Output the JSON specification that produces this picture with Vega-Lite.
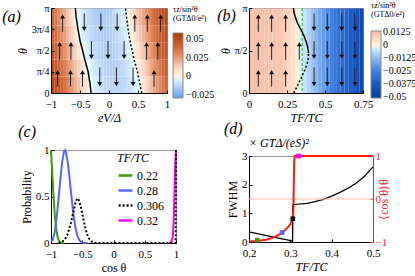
{
"$schema":"https://vega.github.io/schema/vega-lite/v6.json",
"padding":{"left":1,"top":1,"right":0,"bottom":0},
"background":"white",
"config":{
 "font":"Liberation Serif",
 "view":{"stroke":"#999999","strokeWidth":1},
 "axis":{"labelFont":"Liberation Serif","labelFontSize":11,"labelColor":"#000","titleFont":"Liberation Serif","titleFontSize":12,"titleFontWeight":"normal","titleFontStyle":"italic","titleColor":"#000","domainColor":"#000","tickColor":"#000","grid":false,"tickSize":-3,"labelPadding":5,"titlePadding":2,"labelFlush":false,"labelOverlap":false},
 "axisX":{"labelPadding":8,"titlePadding":3},
 "legend":{"labelFont":"Liberation Serif","titleFont":"Liberation Serif","titleFontWeight":"normal","labelOverlap":false},
 "title":{"font":"Liberation Serif","fontSize":16,"fontWeight":"normal","fontStyle":"italic","anchor":"start","frame":"bounds","color":"#000"}
},
"resolve":{"scale":{"color":"independent","shape":"independent","strokeDash":"independent","x":"independent","y":"independent"},"legend":{"color":"independent","strokeDash":"independent"}},
"spacing":0,
"hconcat":[
{"vconcat":[
 {"width":116,"height":85,
  "title":{"text":"(a)","dx":-14,"dy":26},
  "layer":[
   {"data":{"values":[
{"x":-1,"t":0,"v":0.053},{"x":-0.95,"t":0,"v":0.0488},{"x":-0.9,"t":0,"v":0.0447},{"x":-0.85,"t":0,"v":0.0406},{"x":-0.8,"t":0,"v":0.0365},{"x":-0.75,"t":0,"v":0.0324},{"x":-0.7,"t":0,"v":0.0283},{"x":-0.65,"t":0,"v":0.0242},{"x":-0.6,"t":0,"v":0.0201},{"x":-0.55,"t":0,"v":0.016},{"x":-0.5,"t":0,"v":0.0119},{"x":-0.45,"t":0,"v":0.0078},{"x":-0.4,"t":0,"v":0.0037},{"x":-0.35,"t":0,"v":-0.0003},{"x":-0.3,"t":0,"v":-0.0033},{"x":-0.25,"t":0,"v":-0.006},{"x":-0.2,"t":0,"v":-0.0082},{"x":-0.15,"t":0,"v":-0.0101},{"x":-0.1,"t":0,"v":-0.0116},{"x":-0.05,"t":0,"v":-0.0128},{"x":0,"t":0,"v":-0.0136},{"x":0.05,"t":0,"v":-0.0139},{"x":0.1,"t":0,"v":-0.014},{"x":0.15,"t":0,"v":-0.0136},{"x":0.2,"t":0,"v":-0.0129},{"x":0.25,"t":0,"v":-0.0118},{"x":0.3,"t":0,"v":-0.0103},{"x":0.35,"t":0,"v":-0.0084},{"x":0.4,"t":0,"v":-0.0062},{"x":0.45,"t":0,"v":-0.0036},{"x":0.5,"t":0,"v":-0.0006},{"x":0.55,"t":0,"v":0.0036},{"x":0.6,"t":0,"v":0.0081},{"x":0.65,"t":0,"v":0.0126},{"x":0.7,"t":0,"v":0.0172},{"x":0.75,"t":0,"v":0.0217},{"x":0.8,"t":0,"v":0.0262},{"x":0.85,"t":0,"v":0.0307},{"x":0.9,"t":0,"v":0.0352},{"x":0.95,"t":0,"v":0.0397},
{"x":-1,"t":0.2,"v":0.0499},{"x":-0.95,"t":0.2,"v":0.0457},{"x":-0.9,"t":0.2,"v":0.0414},{"x":-0.85,"t":0.2,"v":0.0372},{"x":-0.8,"t":0.2,"v":0.033},{"x":-0.75,"t":0.2,"v":0.0287},{"x":-0.7,"t":0.2,"v":0.0245},{"x":-0.65,"t":0.2,"v":0.0203},{"x":-0.6,"t":0.2,"v":0.0161},{"x":-0.55,"t":0.2,"v":0.0118},{"x":-0.5,"t":0.2,"v":0.0076},{"x":-0.45,"t":0.2,"v":0.0034},{"x":-0.4,"t":0.2,"v":-0.0007},{"x":-0.35,"t":0.2,"v":-0.0038},{"x":-0.3,"t":0.2,"v":-0.0066},{"x":-0.25,"t":0.2,"v":-0.0089},{"x":-0.2,"t":0.2,"v":-0.0108},{"x":-0.15,"t":0.2,"v":-0.0124},{"x":-0.1,"t":0.2,"v":-0.0135},{"x":-0.05,"t":0.2,"v":-0.0142},{"x":0,"t":0.2,"v":-0.0145},{"x":0.05,"t":0.2,"v":-0.0144},{"x":0.1,"t":0.2,"v":-0.0139},{"x":0.15,"t":0.2,"v":-0.013},{"x":0.2,"t":0.2,"v":-0.0116},{"x":0.25,"t":0.2,"v":-0.0099},{"x":0.3,"t":0.2,"v":-0.0078},{"x":0.35,"t":0.2,"v":-0.0052},{"x":0.4,"t":0.2,"v":-0.0023},{"x":0.45,"t":0.2,"v":0.0013},{"x":0.5,"t":0.2,"v":0.0055},{"x":0.55,"t":0.2,"v":0.0098},{"x":0.6,"t":0.2,"v":0.0141},{"x":0.65,"t":0.2,"v":0.0183},{"x":0.7,"t":0.2,"v":0.0226},{"x":0.75,"t":0.2,"v":0.0268},{"x":0.8,"t":0.2,"v":0.0311},{"x":0.85,"t":0.2,"v":0.0354},{"x":0.9,"t":0.2,"v":0.0396},{"x":0.95,"t":0.2,"v":0.0439},
{"x":-1,"t":0.4,"v":0.0458},{"x":-0.95,"t":0.4,"v":0.0413},{"x":-0.9,"t":0.4,"v":0.0369},{"x":-0.85,"t":0.4,"v":0.0324},{"x":-0.8,"t":0.4,"v":0.028},{"x":-0.75,"t":0.4,"v":0.0236},{"x":-0.7,"t":0.4,"v":0.0191},{"x":-0.65,"t":0.4,"v":0.0147},{"x":-0.6,"t":0.4,"v":0.0102},{"x":-0.55,"t":0.4,"v":0.0058},{"x":-0.5,"t":0.4,"v":0.0013},{"x":-0.45,"t":0.4,"v":-0.0023},{"x":-0.4,"t":0.4,"v":-0.0053},{"x":-0.35,"t":0.4,"v":-0.0079},{"x":-0.3,"t":0.4,"v":-0.0101},{"x":-0.25,"t":0.4,"v":-0.0119},{"x":-0.2,"t":0.4,"v":-0.0133},{"x":-0.15,"t":0.4,"v":-0.0143},{"x":-0.1,"t":0.4,"v":-0.0148},{"x":-0.05,"t":0.4,"v":-0.015},{"x":0,"t":0.4,"v":-0.0148},{"x":0.05,"t":0.4,"v":-0.0141},{"x":0.1,"t":0.4,"v":-0.0131},{"x":0.15,"t":0.4,"v":-0.0116},{"x":0.2,"t":0.4,"v":-0.0097},{"x":0.25,"t":0.4,"v":-0.0075},{"x":0.3,"t":0.4,"v":-0.0048},{"x":0.35,"t":0.4,"v":-0.0017},{"x":0.4,"t":0.4,"v":0.0021},{"x":0.45,"t":0.4,"v":0.0063},{"x":0.5,"t":0.4,"v":0.0104},{"x":0.55,"t":0.4,"v":0.0146},{"x":0.6,"t":0.4,"v":0.0188},{"x":0.65,"t":0.4,"v":0.0229},{"x":0.7,"t":0.4,"v":0.0271},{"x":0.75,"t":0.4,"v":0.0313},{"x":0.8,"t":0.4,"v":0.0354},{"x":0.85,"t":0.4,"v":0.0396},{"x":0.9,"t":0.4,"v":0.0438},{"x":0.95,"t":0.4,"v":0.0479},
{"x":-1,"t":0.6,"v":0.0426},{"x":-0.95,"t":0.6,"v":0.0378},{"x":-0.9,"t":0.6,"v":0.033},{"x":-0.85,"t":0.6,"v":0.0282},{"x":-0.8,"t":0.6,"v":0.0235},{"x":-0.75,"t":0.6,"v":0.0187},{"x":-0.7,"t":0.6,"v":0.0139},{"x":-0.65,"t":0.6,"v":0.0091},{"x":-0.6,"t":0.6,"v":0.0043},{"x":-0.55,"t":0.6,"v":-0.0004},{"x":-0.5,"t":0.6,"v":-0.0036},{"x":-0.45,"t":0.6,"v":-0.0065},{"x":-0.4,"t":0.6,"v":-0.009},{"x":-0.35,"t":0.6,"v":-0.0111},{"x":-0.3,"t":0.6,"v":-0.0128},{"x":-0.25,"t":0.6,"v":-0.014},{"x":-0.2,"t":0.6,"v":-0.0149},{"x":-0.15,"t":0.6,"v":-0.0154},{"x":-0.1,"t":0.6,"v":-0.0155},{"x":-0.05,"t":0.6,"v":-0.0152},{"x":0,"t":0.6,"v":-0.0144},{"x":0.05,"t":0.6,"v":-0.0133},{"x":0.1,"t":0.6,"v":-0.0118},{"x":0.15,"t":0.6,"v":-0.0099},{"x":0.2,"t":0.6,"v":-0.0076},{"x":0.25,"t":0.6,"v":-0.0048},{"x":0.3,"t":0.6,"v":-0.0017},{"x":0.35,"t":0.6,"v":0.002},{"x":0.4,"t":0.6,"v":0.0061},{"x":0.45,"t":0.6,"v":0.0102},{"x":0.5,"t":0.6,"v":0.0143},{"x":0.55,"t":0.6,"v":0.0183},{"x":0.6,"t":0.6,"v":0.0224},{"x":0.65,"t":0.6,"v":0.0265},{"x":0.7,"t":0.6,"v":0.0306},{"x":0.75,"t":0.6,"v":0.0347},{"x":0.8,"t":0.6,"v":0.0387},{"x":0.85,"t":0.6,"v":0.0428},{"x":0.9,"t":0.6,"v":0.0469},{"x":0.95,"t":0.6,"v":0.051},
{"x":-1,"t":0.8,"v":0.0405},{"x":-0.95,"t":0.8,"v":0.0354},{"x":-0.9,"t":0.8,"v":0.0304},{"x":-0.85,"t":0.8,"v":0.0253},{"x":-0.8,"t":0.8,"v":0.0202},{"x":-0.75,"t":0.8,"v":0.0152},{"x":-0.7,"t":0.8,"v":0.0101},{"x":-0.65,"t":0.8,"v":0.0051},{"x":-0.6,"t":0.8,"v":0.0},{"x":-0.55,"t":0.8,"v":-0.0034},{"x":-0.5,"t":0.8,"v":-0.0065},{"x":-0.45,"t":0.8,"v":-0.0091},{"x":-0.4,"t":0.8,"v":-0.0113},{"x":-0.35,"t":0.8,"v":-0.0131},{"x":-0.3,"t":0.8,"v":-0.0144},{"x":-0.25,"t":0.8,"v":-0.0154},{"x":-0.2,"t":0.8,"v":-0.0159},{"x":-0.15,"t":0.8,"v":-0.016},{"x":-0.1,"t":0.8,"v":-0.0157},{"x":-0.05,"t":0.8,"v":-0.0149},{"x":0,"t":0.8,"v":-0.0138},{"x":0.05,"t":0.8,"v":-0.0122},{"x":0.1,"t":0.8,"v":-0.0102},{"x":0.15,"t":0.8,"v":-0.0078},{"x":0.2,"t":0.8,"v":-0.005},{"x":0.25,"t":0.8,"v":-0.0018},{"x":0.3,"t":0.8,"v":0.002},{"x":0.35,"t":0.8,"v":0.006},{"x":0.4,"t":0.8,"v":0.01},{"x":0.45,"t":0.8,"v":0.014},{"x":0.5,"t":0.8,"v":0.018},{"x":0.55,"t":0.8,"v":0.022},{"x":0.6,"t":0.8,"v":0.026},{"x":0.65,"t":0.8,"v":0.03},{"x":0.7,"t":0.8,"v":0.034},{"x":0.75,"t":0.8,"v":0.038},{"x":0.8,"t":0.8,"v":0.042},{"x":0.85,"t":0.8,"v":0.046},{"x":0.9,"t":0.8,"v":0.05},{"x":0.95,"t":0.8,"v":0.054}
   ]},
   "mark":{"type":"rect"},
   "encoding":{
    "x":{"field":"x","type":"quantitative","bin":{"binned":true,"step":0.05},"scale":{"domain":[-1,1],"nice":false,"zero":false},"axis":{"values":[-1,-0.5,0,0.5,1],"format":"~g","title":"eV/Δ"}},
    "y":{"field":"t","type":"quantitative","bin":{"binned":true,"step":0.2},"scale":{"domain":[0,1],"nice":false,"zero":false},"axis":{"values":[0,0.25,0.5,0.75,1],"labelFontSize":10,"labelExpr":"datum.value==1?'π':datum.value==0.75?'3π/4':datum.value==0.5?'π/2':datum.value==0.25?'π/4':'0'","title":"θ"}},
    "color":{"field":"v","type":"quantitative","scale":{"domain":[-0.029,-0.0125,0,0.0125,0.025,0.04,0.058],"range":["#5e9ded","#bcd6f6","#ffffff","#f6d0be","#e89a74","#d06432","#ad3a08"]},
     "legend":{"type":"gradient","orient":"none","legendX":122,"legendY":-2,"direction":"vertical","gradientLength":65,"gradientThickness":10,"values":[0.05,0.025,0,-0.025],"format":".4~g","title":["τz/sin²θ","(GTΔ0/e²)"],"titleFontSize":8,"titleLineHeight":9,"titlePadding":10,"labelFontSize":10,"labelOffset":3,"labelBaseline":"middle","gradientStrokeColor":"#888","gradientStrokeWidth":1}}
   }},
   {"data":{"values":[{"x":-0.31,"t":0},{"x":-0.325,"t":0.1},{"x":-0.36,"t":0.25},{"x":-0.42,"t":0.4},{"x":-0.455,"t":0.5},{"x":-0.495,"t":0.6},{"x":-0.535,"t":0.75},{"x":-0.568,"t":0.9},{"x":-0.58,"t":1}]},
    "mark":{"type":"line","color":"#000","strokeWidth":1.5},
    "encoding":{"x":{"field":"x","type":"quantitative"},"y":{"field":"t","type":"quantitative"},"order":{"field":"t"}}},
   {"data":{"values":[{"x":0.565,"t":0},{"x":0.524,"t":0.136},{"x":0.49,"t":0.252},{"x":0.427,"t":0.409},{"x":0.4,"t":0.5},{"x":0.375,"t":0.564},{"x":0.335,"t":0.72},{"x":0.306,"t":0.876},{"x":0.283,"t":1}]},
    "mark":{"type":"line","color":"#000","strokeWidth":1.5,"strokeDash":[2,2]},
    "encoding":{"x":{"field":"x","type":"quantitative"},"y":{"field":"t","type":"quantitative"},"order":{"field":"t"}}},
   {"data":{"values":[
{"x":-0.886,"y0":0.075,"y1":0.245,"d":"u"},{"x":-0.663,"y0":0.075,"y1":0.245,"d":"u"},{"x":-0.457,"y0":0.075,"y1":0.245,"d":"u"},{"x":-0.159,"y0":0.3,"y1":0.105,"d":"d"},{"x":0.128,"y0":0.3,"y1":0.105,"d":"d"},{"x":0.415,"y0":0.3,"y1":0.105,"d":"d"},{"x":0.776,"y0":0.075,"y1":0.245,"d":"u"},
{"x":-0.85,"y0":0.39,"y1":0.575,"d":"u"},{"x":-0.656,"y0":0.39,"y1":0.575,"d":"u"},{"x":-0.303,"y0":0.61,"y1":0.425,"d":"d"},{"x":-0.017,"y0":0.61,"y1":0.425,"d":"d"},{"x":0.26,"y0":0.61,"y1":0.425,"d":"d"},{"x":0.648,"y0":0.39,"y1":0.575,"d":"u"},{"x":0.843,"y0":0.39,"y1":0.575,"d":"u"},
{"x":-0.8,"y0":0.72,"y1":0.9,"d":"u"},{"x":-0.427,"y0":0.935,"y1":0.755,"d":"d"},{"x":-0.14,"y0":0.935,"y1":0.755,"d":"d"},{"x":0.14,"y0":0.935,"y1":0.755,"d":"d"},{"x":0.445,"y0":0.72,"y1":0.9,"d":"u"},{"x":0.66,"y0":0.72,"y1":0.9,"d":"u"},{"x":0.89,"y0":0.72,"y1":0.9,"d":"u"}
   ]},
   "layer":[
    {"mark":{"type":"rule","color":"#222","strokeWidth":1},
     "encoding":{"x":{"field":"x","type":"quantitative"},"y":{"field":"y0","type":"quantitative"},"y2":{"field":"y1"}}},
    {"mark":{"type":"point","filled":true,"color":"#111","size":24,"opacity":1},
     "encoding":{"x":{"field":"x","type":"quantitative"},"y":{"field":"y1","type":"quantitative"},"shape":{"field":"d","type":"nominal","scale":{"domain":["u","d"],"range":["triangle-up","triangle-down"]},"legend":null}}}
   ]}
  ]},
 {"width":125,"height":93,
  "title":{"text":"(c)","dx":-2,"dy":0},
  "data":{"values":[
{"s":"0.22","u":-1,"p":1},{"s":"0.22","u":-0.985,"p":0.82},{"s":"0.22","u":-0.97,"p":0.62},{"s":"0.22","u":-0.955,"p":0.45},{"s":"0.22","u":-0.94,"p":0.31},{"s":"0.22","u":-0.925,"p":0.2},{"s":"0.22","u":-0.91,"p":0.12},{"s":"0.22","u":-0.895,"p":0.07},{"s":"0.22","u":-0.88,"p":0.035},{"s":"0.22","u":-0.86,"p":0.012},{"s":"0.22","u":-0.84,"p":0.003},{"s":"0.22","u":-0.8,"p":0},
{"s":"0.28","u":-1,"p":0.01},{"s":"0.28","u":-0.97,"p":0.04},{"s":"0.28","u":-0.94,"p":0.12},{"s":"0.28","u":-0.91,"p":0.27},{"s":"0.28","u":-0.88,"p":0.47},{"s":"0.28","u":-0.85,"p":0.69},{"s":"0.28","u":-0.82,"p":0.88},{"s":"0.28","u":-0.79,"p":0.99},{"s":"0.28","u":-0.775,"p":1},{"s":"0.28","u":-0.76,"p":0.97},{"s":"0.28","u":-0.73,"p":0.86},{"s":"0.28","u":-0.7,"p":0.68},{"s":"0.28","u":-0.67,"p":0.48},{"s":"0.28","u":-0.64,"p":0.3},{"s":"0.28","u":-0.61,"p":0.17},{"s":"0.28","u":-0.58,"p":0.08},{"s":"0.28","u":-0.55,"p":0.035},{"s":"0.28","u":-0.52,"p":0.013},{"s":"0.28","u":-0.48,"p":0.003},{"s":"0.28","u":-0.42,"p":0},
{"s":"0.32","u":0.9,"p":0},{"s":"0.32","u":0.93,"p":0.02},{"s":"0.32","u":0.95,"p":0.08},{"s":"0.32","u":0.96,"p":0.2},{"s":"0.32","u":0.97,"p":0.4},{"s":"0.32","u":0.98,"p":0.65},{"s":"0.32","u":0.99,"p":0.88},{"s":"0.32","u":1,"p":1},
{"s":"0.306","u":-0.88,"p":0},{"s":"0.306","u":-0.83,"p":0.01},{"s":"0.306","u":-0.78,"p":0.035},{"s":"0.306","u":-0.74,"p":0.085},{"s":"0.306","u":-0.71,"p":0.15},{"s":"0.306","u":-0.68,"p":0.22},{"s":"0.306","u":-0.65,"p":0.31},{"s":"0.306","u":-0.62,"p":0.4},{"s":"0.306","u":-0.6,"p":0.45},{"s":"0.306","u":-0.58,"p":0.48},{"s":"0.306","u":-0.56,"p":0.47},{"s":"0.306","u":-0.54,"p":0.43},{"s":"0.306","u":-0.51,"p":0.35},{"s":"0.306","u":-0.48,"p":0.25},{"s":"0.306","u":-0.45,"p":0.16},{"s":"0.306","u":-0.42,"p":0.09},{"s":"0.306","u":-0.39,"p":0.045},{"s":"0.306","u":-0.36,"p":0.02},{"s":"0.306","u":-0.32,"p":0.005},{"s":"0.306","u":-0.28,"p":0},{"s":"0.306","u":0.995,"p":0},{"s":"0.306","u":1,"p":1}
  ]},
  "mark":{"type":"line","strokeWidth":2},
  "encoding":{
   "x":{"field":"u","type":"quantitative","scale":{"domain":[-1,1],"nice":false},"axis":{"values":[-1,-0.5,0,0.5,1],"format":"~g","title":"cos θ","titleFontStyle":"normal"}},
   "y":{"field":"p","type":"quantitative","scale":{"domain":[0,1],"nice":false},"axis":{"values":[0,0.5,1],"format":"~g","title":"Probability","titleFontStyle":"normal"}},
   "color":{"field":"s","type":"nominal","scale":{"domain":["0.22","0.28","0.306","0.32"],"range":["#3d9b00","#5a63ff","#000000","#ff00ff"]},
    "legend":{"title":"TF/TC","titleFontStyle":"italic","titleFontSize":12,"titlePadding":2,"orient":"none","legendX":66,"legendY":3,"symbolType":"stroke","symbolStrokeWidth":2.5,"symbolSize":190,"labelFontSize":12,"labelOffset":3,"rowPadding":0,"padding":0}},
   "strokeDash":{"field":"s","type":"nominal","scale":{"domain":["0.22","0.28","0.306","0.32"],"range":[[1,0],[1,0],[2,2],[1,0]]},
    "legend":{"title":"TF/TC","titleFontStyle":"italic","titleFontSize":12,"titlePadding":2,"orient":"none","legendX":66,"legendY":3,"symbolType":"stroke","symbolStrokeWidth":2.5,"symbolSize":190,"labelFontSize":12,"labelOffset":3,"rowPadding":0,"padding":0}}
  }}
 ],
 "spacing":-1,
 "resolve":{"scale":{"color":"independent","shape":"independent","strokeDash":"independent","x":"independent","y":"independent"},"legend":{"color":"independent","strokeDash":"independent"}}
},
{"vconcat":[
 {"width":114,"height":85,
  "title":{"text":"(b)","dx":-2,"dy":26},
  "layer":[
   {"data":{"values":[
{"x":0,"t":0,"v":0.0112},{"x":0.025,"t":0,"v":0.0112},{"x":0.05,"t":0,"v":0.0112},{"x":0.075,"t":0,"v":0.0111},{"x":0.1,"t":0,"v":0.011},{"x":0.125,"t":0,"v":0.0109},{"x":0.15,"t":0,"v":0.0107},{"x":0.175,"t":0,"v":0.0103},{"x":0.2,"t":0,"v":0.0095},{"x":0.225,"t":0,"v":0.0082},{"x":0.25,"t":0,"v":0.0062},{"x":0.275,"t":0,"v":0.0036},{"x":0.3,"t":0,"v":0.0008},{"x":0.325,"t":0,"v":-0.0022},{"x":0.35,"t":0,"v":-0.0052},{"x":0.375,"t":0,"v":-0.0082},{"x":0.4,"t":0,"v":-0.0112},{"x":0.425,"t":0,"v":-0.014},{"x":0.45,"t":0,"v":-0.0168},{"x":0.475,"t":0,"v":-0.0195},{"x":0.5,"t":0,"v":-0.0222},{"x":0.525,"t":0,"v":-0.0248},{"x":0.55,"t":0,"v":-0.0273},{"x":0.575,"t":0,"v":-0.0298},{"x":0.6,"t":0,"v":-0.0323},{"x":0.625,"t":0,"v":-0.0348},{"x":0.65,"t":0,"v":-0.0373},{"x":0.675,"t":0,"v":-0.0398},{"x":0.7,"t":0,"v":-0.0425},{"x":0.725,"t":0,"v":-0.046}
   ]},
   "mark":{"type":"rect"},
   "encoding":{
    "x":{"field":"x","type":"quantitative","bin":{"binned":true,"step":0.025},"scale":{"domain":[0,0.75],"nice":false,"zero":false},"axis":{"values":[0,0.25,0.5,0.75],"format":"~g","title":"TF/TC"}},
    "y":{"field":"t","type":"quantitative","bin":{"binned":true,"step":1},"scale":{"domain":[0,1],"nice":false,"zero":false},"axis":{"values":[0,0.25,0.5,0.75,1],"labelFontSize":10,"labelExpr":"datum.value==1?'π':datum.value==0.75?'3π/4':datum.value==0.5?'π/2':datum.value==0.25?'π/4':'0'","title":"θ"}},
    "color":{"field":"v","type":"quantitative","scale":{"domain":[-0.0512,-0.0375,-0.025,-0.0125,0,0.0134],"range":["#083c9c","#1a5cc8","#3f80e0","#95bdf0","#ffffff","#eeb8a2"]},
     "legend":{"type":"gradient","orient":"none","legendX":122,"legendY":-6,"direction":"vertical","gradientLength":67,"gradientThickness":10,"values":[0.0125,0,-0.0125,-0.025,-0.0375,-0.05],"format":".4~g","title":["τz/sin²θ","(GTΔ0/e²)"],"titleFontSize":8,"titleLineHeight":9,"titlePadding":12,"labelFontSize":10,"labelOffset":2,"labelBaseline":"middle","gradientStrokeColor":"#888","gradientStrokeWidth":1}}
   }},
   {"data":{"values":[{"x":0.35}]},
    "mark":{"type":"rule","color":"#2aa02a","strokeWidth":1,"strokeDash":[3,2]},
    "encoding":{"x":{"field":"x","type":"quantitative"}}},
   {"data":{"values":[{"x":0.292,"t":1},{"x":0.296,"t":0.95},{"x":0.305,"t":0.89},{"x":0.32,"t":0.82},{"x":0.34,"t":0.75},{"x":0.36,"t":0.68},{"x":0.375,"t":0.61},{"x":0.386,"t":0.54},{"x":0.392,"t":0.47}]},
    "mark":{"type":"line","color":"#000","strokeWidth":1.5},
    "encoding":{"x":{"field":"x","type":"quantitative"},"y":{"field":"t","type":"quantitative"},"order":{"field":"t"}}},
   {"data":{"values":[{"x":0.392,"t":0.47},{"x":0.39,"t":0.41},{"x":0.383,"t":0.35},{"x":0.37,"t":0.28},{"x":0.352,"t":0.21},{"x":0.333,"t":0.14},{"x":0.315,"t":0.07},{"x":0.3,"t":0.02},{"x":0.295,"t":0}]},
    "mark":{"type":"line","color":"#000","strokeWidth":1.5,"strokeDash":[2,2]},
    "encoding":{"x":{"field":"x","type":"quantitative"},"y":{"field":"t","type":"quantitative"},"order":{"field":"t"}}},
   {"data":{"values":[
{"x":0.061,"y0":0.075,"y1":0.245,"d":"u"},{"x":0.149,"y0":0.075,"y1":0.245,"d":"u"},{"x":0.241,"y0":0.075,"y1":0.245,"d":"u"},{"x":0.428,"y0":0.3,"y1":0.105,"d":"d"},{"x":0.515,"y0":0.3,"y1":0.105,"d":"d"},{"x":0.61,"y0":0.3,"y1":0.105,"d":"d"},{"x":0.697,"y0":0.3,"y1":0.105,"d":"d"},
{"x":0.061,"y0":0.39,"y1":0.575,"d":"u"},{"x":0.149,"y0":0.39,"y1":0.575,"d":"u"},{"x":0.241,"y0":0.39,"y1":0.575,"d":"u"},{"x":0.331,"y0":0.39,"y1":0.575,"d":"u"},{"x":0.428,"y0":0.61,"y1":0.425,"d":"d"},{"x":0.515,"y0":0.61,"y1":0.425,"d":"d"},{"x":0.61,"y0":0.61,"y1":0.425,"d":"d"},{"x":0.697,"y0":0.61,"y1":0.425,"d":"d"},
{"x":0.061,"y0":0.72,"y1":0.9,"d":"u"},{"x":0.149,"y0":0.72,"y1":0.9,"d":"u"},{"x":0.241,"y0":0.72,"y1":0.9,"d":"u"},{"x":0.428,"y0":0.935,"y1":0.755,"d":"d"},{"x":0.515,"y0":0.935,"y1":0.755,"d":"d"},{"x":0.61,"y0":0.935,"y1":0.755,"d":"d"},{"x":0.697,"y0":0.935,"y1":0.755,"d":"d"}
   ]},
   "layer":[
    {"mark":{"type":"rule","color":"#222","strokeWidth":1},
     "encoding":{"x":{"field":"x","type":"quantitative"},"y":{"field":"y0","type":"quantitative"},"y2":{"field":"y1"}}},
    {"mark":{"type":"point","filled":true,"color":"#111","size":24,"opacity":1},
     "encoding":{"x":{"field":"x","type":"quantitative"},"y":{"field":"y1","type":"quantitative"},"shape":{"field":"d","type":"nominal","scale":{"domain":["u","d"],"range":["triangle-up","triangle-down"]},"legend":null}}}
   ]}
  ]},
 {"title":{"text":"(d)","dx":-2,"offset":0},
  "vconcat":[
  {"width":124,"height":86,
   "title":{"text":"× GTΔ/(eS)²","fontSize":12,"frame":"group","offset":0},
   "layer":[
    {"layer":[
     {"data":{"values":[{"T":0.2,"f":0.35},{"T":0.22,"f":0.29},{"T":0.24,"f":0.23},{"T":0.26,"f":0.17},{"T":0.28,"f":0.11},{"T":0.29,"f":0.08},{"T":0.3,"f":0.05},{"T":0.3055,"f":0.02},{"T":0.306,"f":1.3},{"T":0.31,"f":1.31},{"T":0.32,"f":1.32},{"T":0.34,"f":1.35},{"T":0.36,"f":1.41},{"T":0.38,"f":1.49},{"T":0.4,"f":1.6},{"T":0.42,"f":1.73},{"T":0.44,"f":1.88},{"T":0.46,"f":2.06},{"T":0.48,"f":2.3},{"T":0.5,"f":2.62}]},
      "mark":{"type":"line","color":"#000","strokeWidth":1.3},
      "encoding":{
       "x":{"field":"T","type":"quantitative","scale":{"domain":[0.2,0.5],"nice":false,"zero":false},"axis":{"values":[0.2,0.3,0.4,0.5],"format":".1f","title":"TF/TC"}},
       "y":{"field":"f","type":"quantitative","scale":{"domain":[0,3],"nice":false},"axis":{"values":[0,1,2,3],"title":"FWHM","titleFontStyle":"normal","orient":"left"}}
      }}
    ]},
    {"layer":[
     {"data":{"values":[{"c":0}]},
      "mark":{"type":"rule","color":"#ffb8b8","strokeWidth":1},
      "encoding":{"y":{"field":"c","type":"quantitative","scale":{"domain":[-1,1],"nice":false},"axis":{"orient":"right","values":[-1,-0.5,0,0.5,1],"format":"~g","title":"⟨cos θ⟩θ","titleFontStyle":"normal","titleAngle":-90,"titlePadding":4,"labelColor":"#ff1a1a","titleColor":"#ff1a1a","domainColor":"#ff1a1a","tickColor":"#ff1a1a"}}}},
     {"data":{"values":[{"T":0.306,"c":-0.46},{"T":0.312,"c":-0.36},{"T":0.318,"c":-0.25},{"T":0.324,"c":-0.15},{"T":0.33,"c":-0.06},{"T":0.336,"c":0}]},
      "mark":{"type":"line","color":"#ff8080","strokeWidth":1,"strokeDash":[2,2],"opacity":0.6},
      "encoding":{"x":{"field":"T","type":"quantitative"},"y":{"field":"c","type":"quantitative"}}},
     {"data":{"values":[{"T":0.2,"c":-0.99},{"T":0.22,"c":-0.975},{"T":0.24,"c":-0.95},{"T":0.25,"c":-0.925},{"T":0.26,"c":-0.89},{"T":0.27,"c":-0.845},{"T":0.28,"c":-0.78},{"T":0.29,"c":-0.7},{"T":0.3,"c":-0.59},{"T":0.306,"c":-0.46},{"T":0.3075,"c":-0.2},{"T":0.3085,"c":0.4},{"T":0.3095,"c":0.9},{"T":0.311,"c":1},{"T":0.5,"c":1}]},
      "mark":{"type":"line","color":"#ff1a1a","strokeWidth":2},
      "encoding":{"x":{"field":"T","type":"quantitative"},"y":{"field":"c","type":"quantitative"}}},
     {"data":{"values":[{"T":0.22,"c":-0.96,"s":"0.22"},{"T":0.28,"c":-0.78,"s":"0.28"},{"T":0.306,"c":-0.46,"s":"0.306"},{"T":0.32,"c":1,"s":"0.32"}]},
      "mark":{"type":"point","filled":true,"shape":"square","size":22,"opacity":1},
      "encoding":{"x":{"field":"T","type":"quantitative"},"y":{"field":"c","type":"quantitative"},
       "color":{"field":"s","type":"nominal","scale":{"domain":["0.22","0.28","0.306","0.32"],"range":["#3d9b00","#5a63ff","#000000","#ff00ff"]},"legend":null}}}
    ]}
   ],
   "resolve":{"scale":{"y":"independent"}}
  }]}
 ],
 "spacing":-4,
 "resolve":{"scale":{"color":"independent","shape":"independent","x":"independent","y":"independent"},"legend":{"color":"independent"}}
}
]
}
